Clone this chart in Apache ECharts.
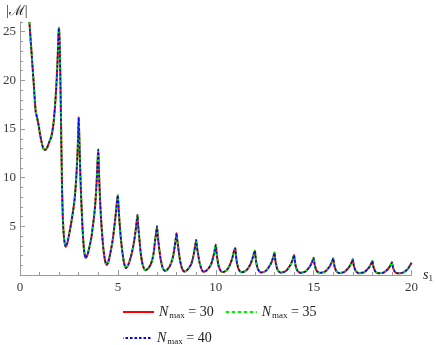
<!DOCTYPE html>
<html>
<head>
<meta charset="utf-8">
<script src="https://cdn.jsdelivr.net/npm/echarts@6/dist/echarts.min.js"></script>
<style>
  html, body { margin: 0; padding: 0; background: #fff; }
  #chart { width: 436px; height: 345px; }
</style>
</head>
<body>
<div id="chart"></div>
<script>
// s1 values, one line per period
var sGrid = [
  0.48, 0.55, 0.62, 0.7, 0.8, 0.88, 0.95, 1.02, 1.1, 1.18, 1.28, 1.38, 1.5, 1.6, 1.7, 1.78, 1.85, 1.91, 1.95, 1.98,
  2.0, 2.03, 2.06, 2.09, 2.12, 2.15, 2.19, 2.25, 2.33, 2.42, 2.52, 2.62, 2.72, 2.8, 2.88, 2.94, 2.98,
  3.0, 3.04, 3.08, 3.13, 3.2, 3.27, 3.35, 3.45, 3.55, 3.65, 3.72, 3.8, 3.86, 3.92, 3.97,
  4.0, 4.04, 4.09, 4.14, 4.19, 4.25, 4.31, 4.38, 4.43, 4.52, 4.65, 4.75, 4.82, 4.9, 4.96,
  5.0, 5.05, 5.1, 5.17, 5.24, 5.32, 5.41, 5.52, 5.64, 5.75, 5.84, 5.91, 5.97,
  6.0, 6.04, 6.09, 6.17, 6.25, 6.33, 6.42, 6.54, 6.67, 6.76, 6.83, 6.9, 6.95,
  7.0, 7.04, 7.09, 7.17, 7.25, 7.32, 7.4, 7.52, 7.65, 7.75, 7.83, 7.9, 7.95,
  8.0, 8.04, 8.09, 8.17, 8.25, 8.32, 8.4, 8.52, 8.65, 8.75, 8.83, 8.9, 8.95,
  9.0, 9.04, 9.09, 9.17, 9.25, 9.32, 9.38, 9.5, 9.63, 9.74, 9.82, 9.9, 9.95,
  10.0, 10.04, 10.08, 10.15, 10.23, 10.3, 10.35, 10.45, 10.56, 10.65, 10.72, 10.78, 10.84, 10.9, 10.95,
  11.0, 11.03, 11.06, 11.1, 11.15, 11.22, 11.32, 11.43, 11.55, 11.65, 11.73, 11.8, 11.86, 11.92, 11.96,
  12.0, 12.03, 12.06, 12.1, 12.15, 12.22, 12.32, 12.43, 12.55, 12.65, 12.73, 12.8, 12.86, 12.92, 12.96,
  13.0, 13.03, 13.06, 13.1, 13.15, 13.22, 13.32, 13.43, 13.55, 13.65, 13.73, 13.8, 13.86, 13.92, 13.96,
  14.0, 14.03, 14.06, 14.1, 14.15, 14.22, 14.32, 14.43, 14.55, 14.65, 14.73, 14.8, 14.86, 14.92, 14.96,
  15.0, 15.03, 15.06, 15.1, 15.15, 15.22, 15.32, 15.43, 15.55, 15.65, 15.73, 15.8, 15.86, 15.92, 15.96,
  16.0, 16.03, 16.06, 16.1, 16.15, 16.22, 16.32, 16.43, 16.55, 16.65, 16.73, 16.8, 16.86, 16.92, 16.96,
  17.0, 17.03, 17.06, 17.1, 17.15, 17.22, 17.32, 17.43, 17.55, 17.65, 17.73, 17.8, 17.86, 17.92, 17.96,
  18.0, 18.03, 18.06, 18.1, 18.15, 18.22, 18.32, 18.43, 18.55, 18.65, 18.73, 18.8, 18.86, 18.92, 18.96,
  19.0, 19.03, 19.06, 19.1, 19.15, 19.22, 19.32, 19.43, 19.55, 19.65, 19.73, 19.8, 19.86, 19.92, 19.96,
  20.0
];

// |M| (the three truncations overlap)
var absM = [
  26.0, 24.0, 22.0, 19.7, 16.8, 16.1, 15.4, 14.5, 13.7, 13.05, 12.85, 13.05, 13.7, 14.2, 15.4, 17.1, 19.2, 21.6, 23.8, 25.4,
  25.2, 23.5, 20.5, 16.5, 12.5, 8.8, 5.8, 3.8, 2.9, 3.3, 4.3, 5.4, 6.7, 8.0, 10.2, 12.6, 15.0,
  16.2, 13.5, 10.5, 7.7, 4.6, 2.6, 1.75, 2.1, 2.9, 3.9, 5.0, 6.3, 7.7, 9.8, 12.0,
  12.9, 10.3, 7.7, 5.8, 4.3, 2.9, 1.9, 1.2, 1.05, 1.4, 2.6, 3.8, 5.0, 6.4, 7.7,
  8.2, 6.4, 5.0, 3.4, 2.2, 1.2, 0.7, 1.0, 1.7, 2.6, 3.6, 4.6, 5.7,
  6.2, 5.0, 3.9, 2.2, 1.2, 0.7, 0.5, 0.65, 1.05, 1.6, 2.3, 3.5, 4.3,
  5.0, 4.0, 3.1, 1.8, 1.0, 0.6, 0.42, 0.55, 0.9, 1.4, 2.0, 2.9, 3.6,
  4.3, 3.5, 2.7, 1.55, 0.85, 0.5, 0.36, 0.47, 0.78, 1.15, 1.7, 2.4, 3.0,
  3.6, 2.9, 2.25, 1.3, 0.72, 0.42, 0.33, 0.42, 0.68, 1.0, 1.45, 2.1, 2.6,
  3.1, 2.3, 1.7, 0.9, 0.5, 0.33, 0.3, 0.35, 0.5, 0.75, 1.03, 1.35, 1.7, 2.2, 2.57,
  2.75, 2.1, 1.54, 1.1, 0.69, 0.42, 0.28, 0.33, 0.46, 0.68, 0.95, 1.25, 1.6, 2.0, 2.3,
  2.5, 1.93, 1.4, 1.0, 0.63, 0.39, 0.26, 0.3, 0.41, 0.62, 0.87, 1.1, 1.38, 1.73, 2.0,
  2.3, 1.77, 1.29, 0.92, 0.58, 0.36, 0.24, 0.28, 0.37, 0.55, 0.78, 0.98, 1.23, 1.54, 1.78,
  2.05, 1.58, 1.15, 0.82, 0.51, 0.33, 0.22, 0.25, 0.32, 0.48, 0.68, 0.85, 1.07, 1.34, 1.55,
  1.78, 1.37, 1.0, 0.71, 0.45, 0.3, 0.22, 0.25, 0.31, 0.46, 0.65, 0.83, 1.03, 1.29, 1.5,
  1.72, 1.32, 0.96, 0.69, 0.43, 0.28, 0.2, 0.23, 0.29, 0.44, 0.62, 0.78, 0.97, 1.22, 1.41,
  1.62, 1.25, 0.91, 0.65, 0.41, 0.27, 0.19, 0.22, 0.26, 0.39, 0.55, 0.7, 0.87, 1.09, 1.26,
  1.45, 1.12, 0.81, 0.58, 0.36, 0.25, 0.18, 0.2, 0.23, 0.35, 0.49, 0.62, 0.78, 0.98, 1.13,
  1.3, 1.0, 0.73, 0.52, 0.33, 0.22, 0.17, 0.19, 0.24, 0.34, 0.47, 0.6, 0.76, 0.98, 1.1,
  1.25
];

var nmaxValues = [30, 35, 40];
var lineColors = ['#ff0000', '#00ee00', '#0000ff'];

var points = sGrid.map(function (s, i) { return [s, absM[i]]; });
var names = nmaxValues.map(function (n) { return 'Nmax = ' + n; });

var myChart = echarts.init(document.getElementById('chart'));

var axisGray = '#9a9a9a';
var labelGray = '#3a3a3a';
var serif = 'Liberation Serif';

// legend: line only, N with "max" subscript
var legendText = {
  itemStyle: { opacity: 0 },
  formatter: function (name) {
    return '{n|N}{s|max}{t| = ' + name.split('= ')[1] + '}';
  },
  textStyle: {
    rich: {
      n: { fontFamily: serif, fontStyle: 'italic', fontSize: 14, color: '#222' },
      s: { fontFamily: serif, fontSize: 9, color: '#222', padding: [7, 0, 0, 1] },
      t: { fontFamily: serif, fontSize: 14, color: '#222' }
    }
  }
};

var option = {
  animation: false,
  grid: { left: 16.5, right: 24.5, top: 22, bottom: 70 },
  xAxis: {
    type: 'value',
    min: 0,
    max: 20,
    interval: 5,
    axisLine: { lineStyle: { color: axisGray, width: 1 } },
    axisTick: { inside: true, length: 5, lineStyle: { color: axisGray } },
    minorTick: { show: true, splitNumber: 5, length: 3, lineStyle: { color: axisGray } },
    axisLabel: { color: labelGray, fontFamily: serif, fontSize: 13, margin: 6 },
    splitLine: { show: false }
  },
  yAxis: [{
    type: 'value',
    min: 0,
    max: 26,
    interval: 5,
    position: 'left',
    axisLine: { show: true, lineStyle: { color: axisGray, width: 1 } },
    axisTick: { show: true, inside: true, length: 5, lineStyle: { color: axisGray } },
    axisLabel: { color: labelGray, fontFamily: serif, fontSize: 13, margin: 4, showMinLabel: false, showMaxLabel: false },
    splitLine: { show: false }
  }, {
    // minor ticks every unit
    type: 'value',
    min: 0,
    max: 26,
    interval: 1,
    position: 'left',
    offset: 0,
    axisLine: { show: false },
    axisTick: { show: true, inside: true, length: 3, lineStyle: { color: axisGray } },
    axisLabel: { show: false },
    splitLine: { show: false }
  }],
  legend: [
    Object.assign({
      data: [names[0], names[1]],
      left: 117, top: 300,
      itemWidth: 31, itemHeight: 14, itemGap: 11
    }, legendText),
    Object.assign({
      data: [names[2]],
      left: 117, top: 326,
      itemWidth: 29, itemHeight: 14
    }, legendText)
  ],
  graphic: [
    { type: 'text', left: 6, top: 4, style: { text: '|ℳ|', fontFamily: serif, fontSize: 14, fill: '#222' } },
    { type: 'text', left: 423, top: 268, style: {
      text: '{i|s}{b|1}',
      rich: {
        i: { fontFamily: serif, fontStyle: 'italic', fontSize: 14, fill: '#222' },
        b: { fontFamily: serif, fontSize: 9, fill: '#222', padding: [8, 0, 0, 0] }
      }
    } }
  ],
  series: [{
    name: names[0],
    type: 'line',
    data: points,
    symbol: 'none',
    smooth: 0.2,
    lineStyle: { color: lineColors[0], width: 2 },
    itemStyle: { color: lineColors[0] },
    z: 2
  }, {
    name: names[1],
    type: 'line',
    data: points,
    symbol: 'none',
    smooth: 0.2,
    lineStyle: { color: lineColors[1], width: 2, type: [3.5, 2.5] },
    itemStyle: { color: lineColors[1] },
    z: 3
  }, {
    name: names[2],
    type: 'line',
    data: points,
    symbol: 'none',
    smooth: 0.2,
    lineStyle: { color: lineColors[2], width: 1.5, type: [2.5, 2], dashOffset: 2 },
    itemStyle: { color: lineColors[2] },
    z: 4
  }]
};

myChart.setOption(option);
window.addEventListener('resize', function () {
  myChart.resize();
});
</script>
</body>
</html>
